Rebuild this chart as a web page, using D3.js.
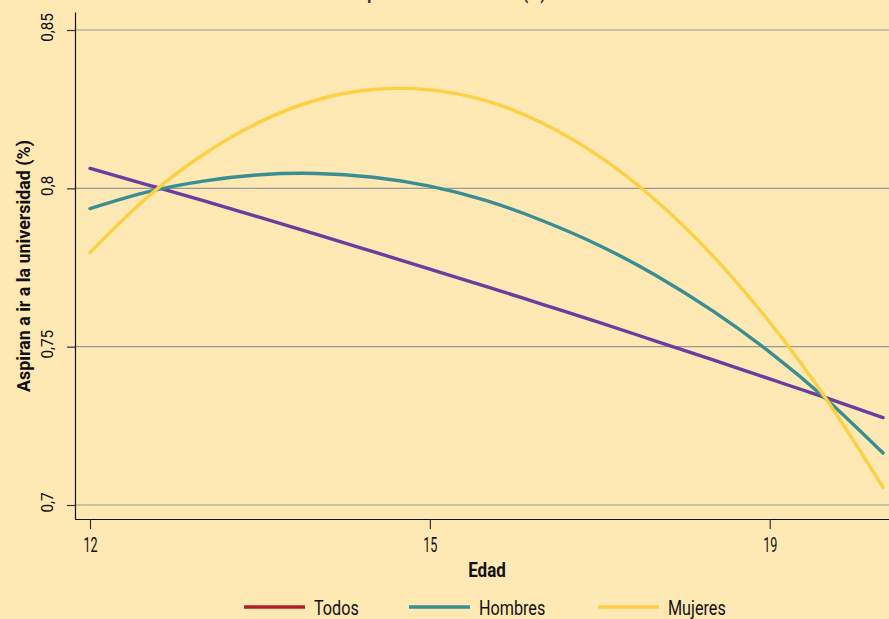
<!DOCTYPE html>
<html>
<head>
<meta charset="utf-8">
<script src="https://d3js.org/d3.v7.min.js"></script>
<style>
  body { margin: 0; background: #fee8b4; }
  svg { display: block; }
  text { font-family: Roboto, 'Open Sans', sans-serif; fill: #111; }
</style>
</head>
<body>
<svg id="chart" width="889" height="619"></svg>
<script>
// edades muestreadas sobre las curvas
const edades = [12, 12.5, 13, 13.5, 14, 14.5, 15, 15.5, 16, 16.5, 17, 17.5, 18, 18.5, 19];

// valores
const todos    = [0.8063, 0.8012, 0.7961, 0.7908, 0.7855, 0.7800, 0.7745, 0.7690, 0.7633, 0.7576, 0.7517, 0.7458, 0.7398, 0.7338, 0.7276];
const hombres  = [0.7936, 0.7988, 0.8023, 0.8043, 0.8047, 0.8035, 0.8007, 0.7961, 0.7897, 0.7819, 0.7724, 0.7612, 0.7483, 0.7334, 0.7164];
const mujeres  = [0.7797, 0.7970, 0.8107, 0.8210, 0.8279, 0.8312, 0.8311, 0.8276, 0.8205, 0.8100, 0.7960, 0.7786, 0.7577, 0.7334, 0.7056];

// marcas del eje x tal como aparecen en el original
const xTickValues = [12, 15, 18];
const xTickLabels = ["12", "15", "19"];
const yTicks = [0.7, 0.75, 0.8, 0.85];
const legendNames = ["Todos", "Hombres", "Mujeres"];
const legendColors = ["#b31f25", "#3a8d91", "#fdd043"];

const series = [
  {name: "Todos",   values: todos,   color: "#6a3d9e"},
  {name: "Hombres", values: hombres, color: "#3a8d91"},
  {name: "Mujeres", values: mujeres, color: "#fdd043"}
];

const svg = d3.select("#chart");
const W = +svg.attr("width"), H = +svg.attr("height");
const margin = {top: 12, right: 0, bottom: 100, left: 75};
const w = W - margin.left - margin.right;
const h = H - margin.top - margin.bottom;

const g = svg.append("g").attr("transform", `translate(${margin.left},${margin.top})`);

// la fuente del original es condensada: se estrecha el texto
function condense(sel, k) {
  sel.each(function() {
    const len = this.getComputedTextLength();
    d3.select(this).attr("textLength", len * k).attr("lengthAdjust", "spacingAndGlyphs");
  });
}

const x = d3.scaleLinear().domain([12, 19]).range([15, w - 6]);
const y = d3.scaleLinear().domain([0.69558, 0.85569]).range([h, 0]);

const loc = d3.formatLocale({decimal: ",", thousands: ".", grouping: [3], currency: ["", ""]});
const fmt = v => loc.format("~g")(v);

// titulo (cortado arriba)
svg.append("text")
  .attr("x", 447).attr("y", -1)
  .attr("text-anchor", "middle")
  .style("font-size", "20px").style("font-weight", "bold")
  .style("fill", "#333")
  .text("Aspiración universitaria (%)")
  .call(condense, 0.8);

// lineas de grilla
g.append("g").selectAll("line").data(yTicks).join("line")
  .attr("x1", 0).attr("x2", w)
  .attr("y1", d => y(d)).attr("y2", d => y(d))
  .attr("stroke", "#98989a").attr("stroke-width", 1.2);

// eje y
const yAxis = g.append("g")
  .call(d3.axisLeft(y).tickValues(yTicks).tickFormat(fmt).tickSize(8).tickSizeOuter(0));
yAxis.select(".domain").attr("stroke", "#111").attr("stroke-width", 1.2);
yAxis.selectAll(".tick line").attr("stroke", "#333").attr("stroke-width", 1.2);
yAxis.selectAll(".tick text")
  .attr("x", 0).attr("dy", 0)
  .attr("transform", "translate(-22,-3) rotate(-90)")
  .attr("text-anchor", "middle")
  .style("font-size", "16px")
  .style("font-family", "Roboto, sans-serif")
  .style("fill", "#111")
  .call(condense, 0.95);

// eje x
const xAxis = g.append("g").attr("transform", `translate(0,${h})`)
  .call(d3.axisBottom(x).tickValues(xTickValues)
    .tickFormat((d, i) => xTickLabels[i]).tickSize(10).tickSizeOuter(0));
xAxis.select(".domain").attr("stroke", "#111").attr("stroke-width", 1.2).attr("d", `M0,0.5H${w}`);
xAxis.selectAll(".tick line").attr("stroke", "#333").attr("stroke-width", 1.2);
xAxis.selectAll(".tick text")
  .attr("y", 33).attr("dy", 0)
  .style("font-size", "21px")
  .style("font-family", "Roboto, sans-serif")
  .style("fill", "#111")
  .call(condense, 0.6);

// titulos de ejes
svg.append("text")
  .attr("x", margin.left + w / 2 + 5).attr("y", 577)
  .attr("text-anchor", "middle")
  .style("font-size", "20px").style("font-weight", "bold")
  .text("Edad")
  .call(condense, 0.85);

svg.append("text")
  .attr("transform", `translate(30,266) rotate(-90)`)
  .attr("text-anchor", "middle")
  .style("font-size", "19px").style("font-weight", "bold")
  .attr("textLength", 252).attr("lengthAdjust", "spacingAndGlyphs")
  .text("Aspiran a ir a la universidad (%)");

// curvas
const line = d3.line()
  .x((d, i) => x(edades[i]))
  .y(d => y(d))
  .curve(d3.curveNatural);

g.append("g").selectAll("path").data(series).join("path")
  .attr("d", d => line(d.values))
  .attr("fill", "none")
  .attr("stroke", d => d.color)
  .attr("stroke-width", 3.4)
  .attr("stroke-linecap", "round");

// leyenda
const legX = [244, 409, 598];
const leg = svg.append("g").selectAll("g").data(legendNames).join("g")
  .attr("transform", (d, i) => `translate(${legX[i]},607)`);
leg.append("line")
  .attr("x1", 0).attr("x2", 61)
  .attr("stroke", (d, i) => legendColors[i])
  .attr("stroke-width", 3.6);
leg.append("text")
  .attr("x", 70).attr("y", 8)
  .style("font-size", "21px")
  .text(d => d)
  .call(condense, 0.77);
</script>
</body>
</html>
